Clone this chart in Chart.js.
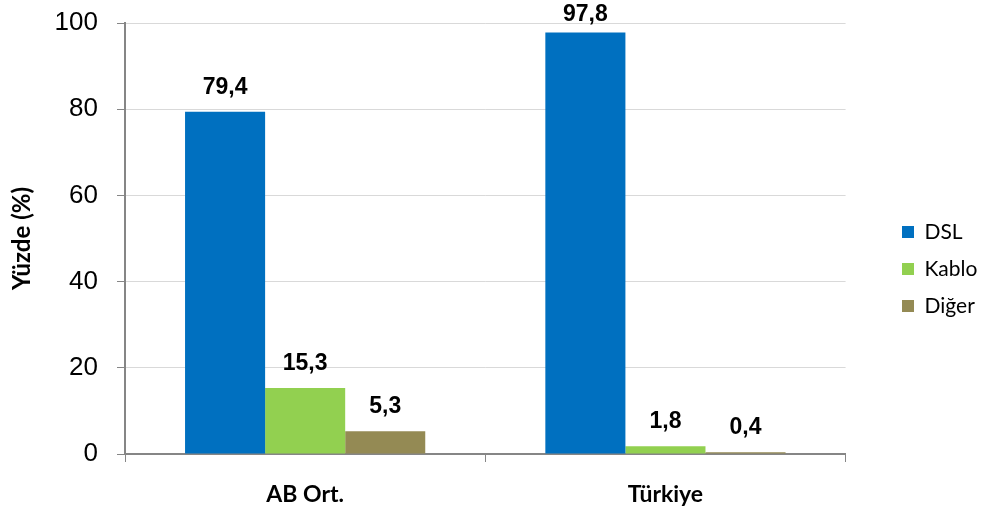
<!DOCTYPE html>
<html><head><meta charset="utf-8">
<script src="https://cdn.jsdelivr.net/npm/chart.js@4"></script>
<style>html,body{margin:0;padding:0;background:#fff}#wrap{width:983px;height:515px}</style>
</head><body><div id="wrap"><canvas id="c"></canvas></div>
<script>
const categories = ["AB Ort.", "Türkiye"];
const seriesNames = ["DSL", "Kablo", "Diğer"];
const dslValues = [79.4, 97.8];
const kabloValues = [15.3, 1.8];
const digerValues = [5.3, 0.4];
const yTicks = [0, 20, 40, 60, 80, 100];
const colors = ["#0070C0", "#92D050", "#948A54"];

const labelPlugin = {
  id: 'vals',
  afterDatasetsDraw(chart) {
    const ctx = chart.ctx;
    ctx.save();
    ctx.font = 'bold 23px "Liberation Sans", Arial';
    ctx.fillStyle = '#000';
    ctx.textAlign = 'center';
    ctx.textBaseline = 'alphabetic';
    chart.data.datasets.forEach((ds, i) => {
      chart.getDatasetMeta(i).data.forEach((bar, j) => {
        const y = Math.max(bar.y - 18, 21);
        ctx.fillText(ds.data[j].toFixed(1).replace('.', ','), bar.x, y);
      });
    });
    ctx.restore();
  }
};
const legendPos = {
  id: 'legendPos',
  afterLayout(chart) {
    const l = chart.legend;
    if (!l) return;
    const pad = l.options.labels.padding;
    const dx = 902 - (l.left + pad);
    l.left += dx; l.right += dx;
  }
};

new Chart(document.getElementById('c'), {
  type: 'bar',
  data: {
    labels: categories,
    datasets: [
      { label: seriesNames[0], data: dslValues, backgroundColor: colors[0] },
      { label: seriesNames[1], data: kabloValues, backgroundColor: colors[1] },
      { label: seriesNames[2], data: digerValues, backgroundColor: colors[2] }
    ]
  },
  options: {
    responsive: true, maintainAspectRatio: false, animation: false,
    layout: { padding: { top: 23, left: 0, right: 36, bottom: 0 } },
    datasets: { bar: { categoryPercentage: 0.6667, barPercentage: 1.0 } },
    plugins: {
      legend: {
        position: 'right',
        labels: { font: { family: 'Lato', size: 21 }, color: '#000', boxWidth: 12, boxHeight: 12, padding: 16 }
      },
      tooltip: { enabled: false }
    },
    scales: {
      x: {
        afterFit(ax) { ax.height = 61; ax.paddingLeft = 0; ax.paddingRight = 0; },
        grid: { display: true, drawOnChartArea: false, offset: true, color: '#868686', tickLength: 8, lineWidth: 1 },
        border: { color: '#868686', width: 2 },
        ticks: { color: '#000', font: { family: 'Lato', size: 23, weight: 'bold' }, padding: 19 }
      },
      y: {
        min: 0, max: 100,
        afterBuildTicks(ax) { ax.ticks = yTicks.map(v => ({ value: v })); },
        afterFit(ax) { ax.width = 125; ax.paddingTop = 0; ax.paddingBottom = 0; },
        grid: { color: '#D9D9D9', tickColor: '#868686', tickLength: 8 },
        border: { color: '#868686', width: 2 },
        ticks: { color: '#000', font: { family: '"Liberation Sans", Arial', size: 26 }, padding: 19 },
        title: { display: true, text: 'Yüzde (%)', color: '#000', font: { family: 'Lato', size: 24, weight: 'bold' }, padding: 8 }
      }
    }
  },
  plugins: [labelPlugin, legendPos]
});
</script></body></html>
